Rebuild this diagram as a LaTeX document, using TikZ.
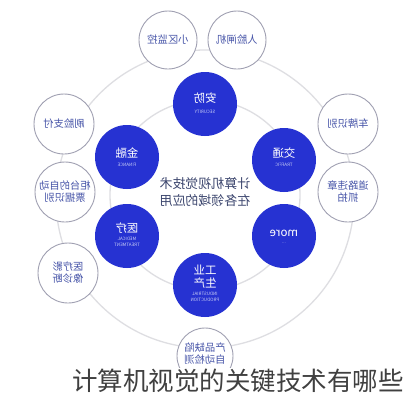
\documentclass[tikz,border=0pt]{standalone}
\usepackage{fontspec}
\usepackage{graphicx}
\newfontfamily\cjk{Noto Sans CJK SC}
\definecolor{cvblue}{RGB}{38,50,210}
\definecolor{ringgray}{RGB}{222,222,226}
\definecolor{outline}{RGB}{160,160,178}
\definecolor{outtext}{RGB}{70,84,168}
\definecolor{midtext}{RGB}{60,70,110}
\definecolor{entext}{RGB}{200,205,245}
\newcommand{\mir}[1]{\reflectbox{#1}}
\tikzset{
  ring/.style={draw=ringgray, line width=1.3pt},
  bluec/.style={circle, fill=cvblue, draw=none, minimum size=64pt, inner sep=0pt},
  outc/.style={circle, fill=white, draw=outline, line width=0.9pt, minimum size=58pt, inner sep=0pt},
  outlabel/.style={font=\cjk\fontsize{10.3}{12}\selectfont, text=outtext, align=center, inner sep=0pt},
  cnw/.style={font=\cjk\fontsize{11.5}{13}\selectfont, text=white, inner sep=0pt},
  enw/.style={font=\cjk\fontsize{4.5}{5.5}\selectfont, text=entext, inner sep=0pt, align=center},
  centertext/.style={font=\cjk\fontsize{13}{16}\selectfont, text=midtext, inner sep=0pt},
  titletext/.style={font=\cjk\fontsize{25.5}{28}\selectfont, text=black!75, fill=white, inner sep=1pt}
}
\begin{document}
\begin{tikzpicture}[x=1pt,y=-1pt]
\useasboundingbox (0,0) rectangle (408,400);
\fill[white] (0,0) rectangle (408,400);
% rings
\coordinate (c) at (205,199);
\draw[ring] (c) circle[radius=149pt];
\draw[ring] (205,195) circle[radius=95pt];
% outer circles
\node[outc] (xiaoqu) at (168,40) {};
\node[outc] (renlian) at (237,40) {};
\node[outc, minimum size=60pt] (shualian) at (64,124) {};
\node[outc, minimum size=60pt] (guitai) at (65,192) {};
\node[outc, minimum size=60pt] (yiliaoying) at (68,273) {};
\node[outc, minimum size=60pt] (chepai) at (348,124) {};
\node[outc, minimum size=60pt] (daolu) at (348,192) {};
\node[outc, minimum size=56pt] (chanpin) at (205,356) {};
\node[outlabel] (xiaoqut) at (xiaoqu) {\mir{小区监控}};
\node[outlabel] (renliant) at (renlian) {\mir{人脸闸机}};
\node[outlabel] (shualiant) at (shualian) {\mir{刷脸支付}};
\node[outlabel] (guitait) at (guitai) {\mir{柜台的自动}\\\mir{票据识别}};
\node[outlabel] (yiliaoyingt) at (yiliaoying) {\mir{医疗影}\\\mir{像诊断}};
\node[outlabel] (chepait) at (chepai) {\mir{车牌识别}};
\node[outlabel] (daolut) at (daolu) {\mir{道路违章}\\\mir{抓拍}};
\node[outlabel] (chanpint) at (205,354) {\mir{产品缺陷}\\\mir{自动检测}};
% blue circles
\node[bluec] (anfang) at (205,104) {};
\node[bluec] (jiaotong) at (284,160) {};
\node[bluec] (jinrong) at (127,157) {};
\node[bluec] (yiliao) at (127,236) {};
\node[bluec] (more) at (284,236) {};
\node[bluec] (gongye) at (205,285) {};
\node[cnw] (anfangcn) at (205,98) {\mir{安防}};
\node[enw] (anfangen) at (205,112) {\mir{SECURITY}};
\node[cnw] (jiaotongcn) at (284,153) {\mir{交通}};
\node[enw] (jiaotongen) at (284,165) {\mir{TRAFFIC}};
\node[cnw] (jinrongcn) at (127,153) {\mir{金融}};
\node[enw] (jinrongen) at (127,165) {\mir{FINANCE}};
\node[cnw] (yiliaocn) at (127,228) {\mir{医疗}};
\node[enw] (yiliaoen) at (127,242) {\mir{MEDICAL}\\\mir{TREATMENT}};
\node[cnw] (morecn) at (284,233) {\mir{more}};
\node[enw] (moreen) at (284,243) {\mir{...}};
\node[cnw] (gongyecn1) at (205,270) {\mir{工业}};
\node[cnw] (gongyecn2) at (205,283) {\mir{生产}};
\node[enw] (gongyeen) at (205,297) {\mir{INDUSTRIAL}\\\mir{PRODUCTION}};
% center text
\node[centertext] (center1) at (205,184) {\mir{计算机视觉技术}};
\node[centertext] (center2) at (205,201) {\mir{在各领域的应用}};
% title
\node[titletext] (title) at (238,381) {计算机视觉的关键技术有哪些};
\end{tikzpicture}
\end{document}
